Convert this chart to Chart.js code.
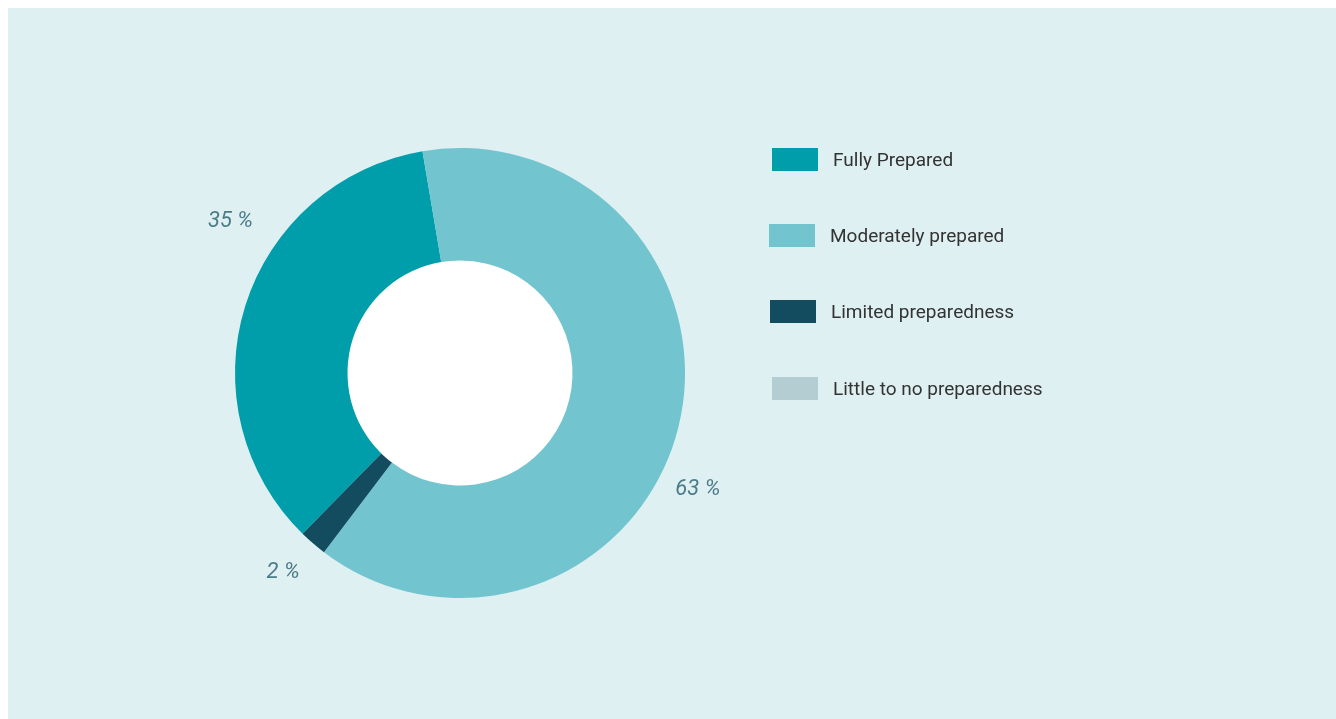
<!DOCTYPE html>
<html>
<head>
<meta charset="utf-8">
<script src="https://cdn.jsdelivr.net/npm/chart.js@4/dist/chart.umd.min.js"></script>
<style>
  html, body { margin: 0; padding: 0; background: #ffffff; }
  #wrap {
    position: absolute; left: 8px; top: 8px;
    width: 1328px; height: 711px;
    background: #dff0f3;
  }
  #chart { position: absolute; left: 0; top: 0; }
  #legend { position: absolute; left: 0; top: 0; }
  .lg-item {
    position: absolute; display: flex; align-items: center; white-space: nowrap;
    font-family: Roboto, "Noto Sans", sans-serif; font-size: 19px; color: #333;
  }
  .lg-box { width: 46px; height: 23px; margin-right: 15px; flex-shrink: 0; }
</style>
</head>
<body>
<div id="wrap">
  <canvas id="chart" width="1328" height="711"></canvas>
  <div id="legend"></div>
</div>
<script>
// --- Daten ---
const categories = ['Fully Prepared', 'Moderately prepared', 'Limited preparedness', 'Little to no preparedness'];
const shares = [35, 63, 2, 0];
const colors = ['#009eab', '#72c4cf', '#134b5f', '#b3cdd3'];

// label placement around the ring (angle shift in degrees, distance from centre)
const labelShift = [16, 12.4, 0.7, 0];
const labelDist = [275, 265, 267, 265];

// legend rows (left edge inside the wrapper, top of the box)
const legendX = [764, 761, 762, 764];
const legendY = [140, 216, 292, 369];

// white disc in the middle of the ring
const holeFill = {
    id: 'holeFill',
    beforeDatasetsDraw(chart) {
        const arc = chart.getDatasetMeta(0).data[0];
        if (!arc) return;
        const { ctx } = chart;
        ctx.save();
        ctx.fillStyle = '#ffffff';
        ctx.beginPath();
        ctx.arc(arc.x, arc.y, arc.innerRadius + 0.5, 0, Math.PI * 2);
        ctx.fill();
        ctx.restore();
    }
};

// prozent labels next to the arcs
const pctLabels = {
    id: 'pctLabels',
    afterDatasetsDraw(chart) {
        const { ctx } = chart;
        const meta = chart.getDatasetMeta(0);
        ctx.save();
        ctx.font = 'italic 22px Roboto, "Noto Sans", sans-serif';
        ctx.fillStyle = '#4b7c88';
        ctx.textAlign = 'center';
        ctx.textBaseline = 'middle';
        meta.data.forEach((arc, i) => {
            if (!shares[i]) return;
            const mid = (arc.startAngle + arc.endAngle) / 2 + labelShift[i] * Math.PI / 180;
            const x = arc.x + Math.cos(mid) * labelDist[i];
            const y = arc.y + Math.sin(mid) * labelDist[i];
            ctx.fillText(shares[i] + ' %', x, y);
        });
        ctx.restore();
    }
};

const ctx = document.getElementById('chart').getContext('2d');
const prepChart = new Chart(ctx, {
    type: 'doughnut',
    data: {
        labels: categories,
        datasets: [{
            data: shares,
            backgroundColor: colors,
            borderWidth: 0,
            hoverOffset: 0
        }]
    },
    options: {
        responsive: false,
        animation: false,
        rotation: 224.4,
        cutout: '50%',
        layout: { padding: { left: 227, right: 651, top: 140, bottom: 121 } },
        plugins: {
            legend: { display: false },
            tooltip: { enabled: false }
        }
    },
    plugins: [holeFill, pctLabels]
});

// Legende als HTML
const elLegend = document.getElementById('legend');
categories.forEach((name, i) => {
    const div = document.createElement('div');
    div.className = 'lg-item';
    div.style.left = legendX[i] + 'px';
    div.style.top = legendY[i] + 'px';
    div.innerHTML = `<div class="lg-box" style="background:${colors[i]}"></div><span>${name}</span>`;
    elLegend.appendChild(div);
});
</script>
</body>
</html>
